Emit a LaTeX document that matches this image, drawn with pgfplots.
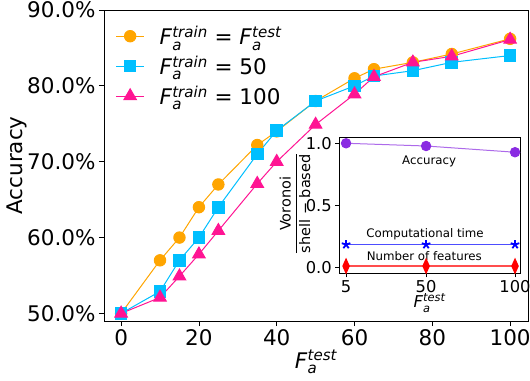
\documentclass[border=0pt]{standalone}
\usepackage{fontspec}
\setmainfont{DejaVu Sans}
\usepackage{amsmath}
\usepackage{pgfplots}
\pgfplotsset{compat=1.18}
\definecolor{c1}{RGB}{255,165,0}
\definecolor{c2}{RGB}{0,191,255}
\definecolor{c3}{RGB}{255,20,147}
\definecolor{pv}{RGB}{138,43,226}
\definecolor{pvl}{RGB}{173,106,234}
\definecolor{bl}{RGB}{0,0,255}
\definecolor{bll}{RGB}{77,77,255}
\definecolor{rd}{RGB}{255,0,0}
\definecolor{rdl}{RGB}{255,77,77}
\newcommand{\Fa}[1]{\textit{F}$^{\textit{#1}}_{\textit{a}}$}
\newcommand{\bigfs}{\fontsize{21.5bp}{25bp}\selectfont}
\newcommand{\midfs}{\fontsize{16.3bp}{19bp}\selectfont}
\newcommand{\smfs}{\fontsize{11.8bp}{14bp}\selectfont}
\begin{document}
\begin{tikzpicture}
\begin{axis}[name=main,
 scale only axis, width=424bp, height=311bp,
 xmin=-4.4, xmax=104.6, ymin=49, ymax=90,
 xtick={0,20,40,60,80,100}, ytick={50,60,70,80,90},
 yticklabels={50.0\%,60.0\%,70.0\%,80.0\%,90.0\%},
 tick align=outside, tick pos=left, major tick length=5bp,
 every tick/.style={black, line width=0.8bp},
 axis line style={line width=0.8bp},
 /pgf/number format/assume math mode=true,
 ticklabel style={font=\bigfs},
 label style={font=\bigfs},
 xlabel={\Fa{test}}, ylabel={Accuracy},
 xlabel style={at={([yshift=-41bp]axis description cs:0.5,0)}, anchor=center},
 ylabel style={at={([xshift=-87bp]axis description cs:0,0.5)}, anchor=center},
 legend cell align=left,
 legend style={draw=none, fill=none, at={(0.02,0.962)}, anchor=north west, font=\bigfs, row sep=5.5bp,
   /tikz/every odd column/.append style={column sep=13bp}},
 legend image code/.code={\draw[mark repeat=2,mark phase=2] plot coordinates {(0bp,0bp)(14bp,0bp)(28bp,0bp)};},
]
\addplot[c1, line width=1bp, mark=*, mark size=5.7bp, mark options={fill=c1, draw=c1}] coordinates {
(0,50)(10,57)(15,60)(20,64)(25,67)(35,72.2)(40,74)(50,78)(60,81)(65,82.2)(75,83.1)(85,84.2)(100,86.2)};
\addlegendentry{\Fa{train} = \Fa{test}}
\addplot[c2, line width=1bp, mark=square*, mark size=5.8bp, mark options={fill=c2, draw=c2}] coordinates {
(0,50)(10,52.9)(15,57)(20,60)(25,64)(35,71)(40,74.1)(50,78)(60,80)(65,81.3)(75,82)(85,83.1)(100,84)};
\addlegendentry{\Fa{train} = 50}
\addplot[c3, line width=1bp, mark=triangle*, mark size=7.2bp, mark options={fill=c3, draw=c3}] coordinates {
(0,50)(10,52.1)(15,54.9)(20,57.8)(25,60.9)(35,67.1)(40,70)(50,74.9)(60,78.9)(65,81.2)(75,83.1)(85,83.9)(100,86.1)};
\addlegendentry{\Fa{train} = 100}
\end{axis}
\begin{axis}[
 at={(235.3bp,47.7bp)}, anchor=south west,
 scale only axis, width=180.7bp, height=136bp,
 xmin=1.2, xmax=102.8, ymin=-0.045, ymax=1.048,
 xtick={5,50,100}, ytick={0,0.5,1}, yticklabels={0.0,0.5,1.0},
 axis background/.style={fill=white},
 tick align=outside, tick pos=left, major tick length=4bp,
 every tick/.style={black, line width=0.8bp},
 axis line style={line width=0.8bp},
 /pgf/number format/assume math mode=true,
 ticklabel style={font=\midfs},
 label style={font=\midfs},
 xlabel={\Fa{test}},
 ylabel={$\dfrac{\text{Voronoi}}{\text{shell − based}}$},
 xlabel style={at={([yshift=-29.7bp]axis description cs:0.5,0)}, anchor=center},
 ylabel style={at={([xshift=-44.3bp,yshift=1.5bp]axis description cs:0,0.5)}, anchor=center, font=\fontsize{14.5bp}{17bp}\selectfont},
]
\addplot[pvl, line width=1bp, mark=*, mark size=4.7bp, mark options={fill=pv, draw=pv}] coordinates {(5,1.0)(50,0.978)(100,0.928)};
\addplot[bll, line width=1.6bp, mark=star, mark size=4.5bp, mark options={draw=bl, line width=1.8bp}] coordinates {(5,0.186)(50,0.186)(100,0.186)};
\addplot[rdl, line width=2.4bp, mark=diamond*, mark size=5.5bp, mark options={fill=rd, draw=rd, xscale=0.6}] coordinates {(5,0.013)(50,0.013)(100,0.013)};
\node[font=\smfs] at (axis cs:51.7,0.858) {Accuracy};
\node[font=\smfs] at (axis cs:49.4,0.266) {Computational time};
\node[font=\smfs] at (axis cs:49,0.093) {Number of features};
\end{axis}
\pgfresetboundingbox
\path[use as bounding box] (main.south west) ++(-104bp,-60bp) rectangle ++(530bp,381bp);
\end{tikzpicture}
\end{document}
